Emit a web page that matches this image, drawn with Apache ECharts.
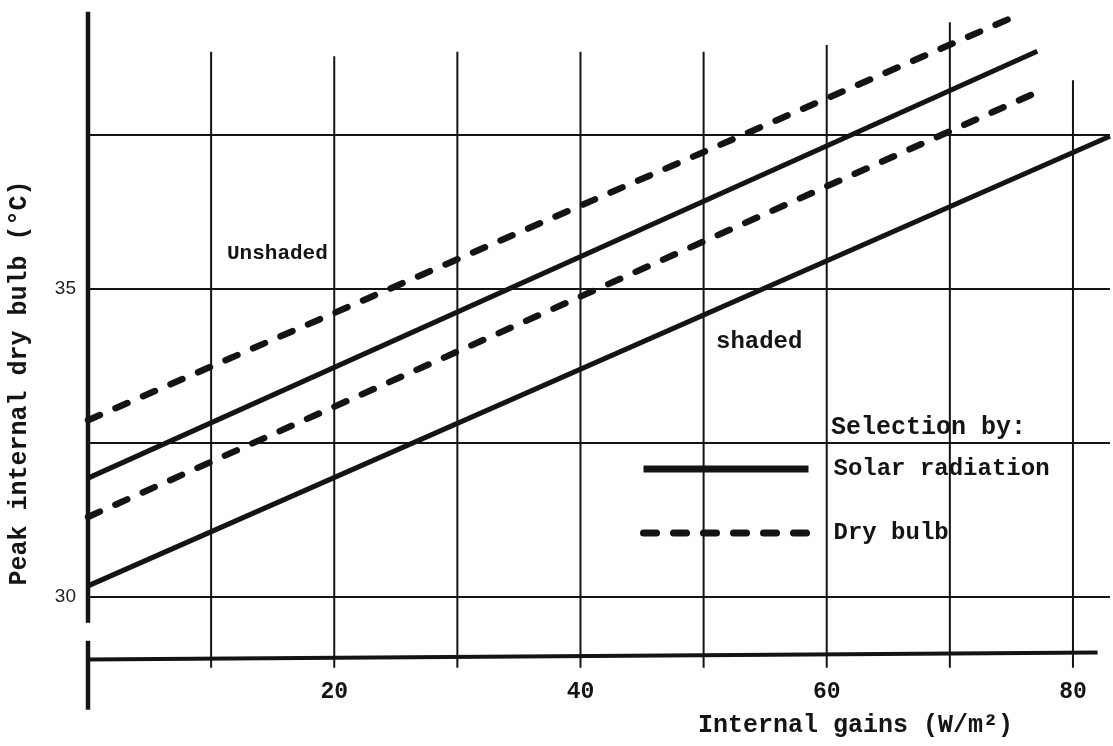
<!DOCTYPE html>
<html>
<head>
<meta charset="utf-8">
<script src="https://cdn.jsdelivr.net/npm/echarts@6/dist/echarts.min.js"></script>
<style>
  html, body { margin: 0; padding: 0; background: #fff; }
  #chart { width: 1113px; height: 746px; }
</style>
</head>
<body>
<div id="chart"></div>
<script>
// Internal gains (W/m²): ruled verticals and the labelled values
const gainRules = [10, 20, 30, 40, 50, 60, 70, 80];
const gainLabels = [20, 40, 60, 80];
// upper end (°C) of each ruled vertical, as drawn by hand
const gainRuleTops = [38.85, 38.78, 38.85, 38.85, 38.85, 38.96, 39.33, 38.39];

// Peak internal dry bulb (°C): ruled horizontals and labelled values
const tempRules = [30, 32.5, 35, 37.5];
const tempLabels = [30, 35];

// Peak temperature against internal gains, end points of each straight line
const unshadedSolarGain = [0, 77.1];
const unshadedSolarTemp = [31.93, 38.86];
const unshadedDryGain = [0, 75];
const unshadedDryTemp = [32.87, 39.4];
const shadedSolarGain = [0, 83];
const shadedSolarTemp = [30.18, 37.48];
const shadedDryGain = [0, 77.6];
const shadedDryTemp = [31.3, 38.24];

// Axis frame: broken temperature axis and the gains axis below the break
const tempAxisUpper = [[0, 29.58], [0, 39.5]];
const tempAxisLower = [[0, 28.17], [0, 29.29]];
const gainAxisLine = [[-2.6, 28.98], [82, 29.1]];

const INK = '#141414';
const MONO = '"Liberation Mono", "DejaVu Sans Mono", monospace';

const pairs = (xs, ys) => xs.map((x, i) => [x, ys[i]]);

function rule(data, width, clip) {
  return {
    type: 'line', data, symbol: 'none', silent: true, clip: !!clip, z: 1,
    lineStyle: { color: INK, width, cap: 'butt' }
  };
}

const series = [];
tempRules.forEach(v => series.push(rule([[0, v], [83, v]], 2)));
gainRules.forEach((g, i) => series.push(rule([[g, 28.85], [g, gainRuleTops[i]]], 2, false)));
series.push(rule(tempAxisUpper, 4.5, false));
series.push(rule(tempAxisLower, 4.5, false));
series.push(rule(gainAxisLine, 4, false));

function curve(name, data, dashed) {
  return {
    name, type: 'line', data, symbol: 'none', silent: true, clip: false, z: 5,
    itemStyle: { color: INK },
    lineStyle: dashed
      ? { color: INK, width: 6.5, type: [13, 17], cap: 'round' }
      : { color: INK, width: 5, type: 'solid', cap: 'butt' }
  };
}
series.push(curve('Solar radiation', pairs(unshadedSolarGain, unshadedSolarTemp), false));
series.push(curve('Dry bulb', pairs(unshadedDryGain, unshadedDryTemp), true));
series.push(curve('Solar radiation', pairs(shadedSolarGain, shadedSolarTemp), false));
series.push(curve('Dry bulb', pairs(shadedDryGain, shadedDryTemp), true));

const chart = echarts.init(document.getElementById('chart'));
chart.setOption({
  animation: false,
  backgroundColor: '#ffffff',
  grid: { left: 88, right: 3.1, top: 11.8, bottom: 87.4, containLabel: false },
  xAxis: {
    type: 'value', min: 0, max: 83, interval: 10,
    axisLine: { show: false }, axisTick: { show: false }, splitLine: { show: false },
    axisLabel: {
      margin: 22, color: INK, fontFamily: MONO, fontWeight: 'bold', fontSize: 23,
      formatter: v => gainLabels.includes(v) ? String(v) : ''
    }
  },
  yAxis: {
    type: 'value', min: 29, max: 39.5, interval: 0.5,
    axisLine: { show: false }, axisTick: { show: false }, splitLine: { show: false },
    axisLabel: {
      margin: 12, color: '#222', fontFamily: '"Liberation Sans", Arial, sans-serif', fontSize: 19,
      padding: [0, 0, 18, 0],
      formatter: v => tempLabels.includes(v) ? String(v) : ''
    }
  },
  legend: {
    data: ['Solar radiation', 'Dry bulb'],
    orient: 'vertical', left: 640, top: 457, padding: 0,
    itemWidth: 165, itemHeight: 14, itemGap: 40,
    selectedMode: false,
    itemStyle: { opacity: 0 },
    lineStyle: { width: 7, color: INK },
    textStyle: { color: INK, fontFamily: MONO, fontWeight: 'bold', fontSize: 24, padding: [0, 0, 0, 20] }
  },
  graphic: [
    { type: 'text', x: 831, y: 428, silent: true,
      style: { text: 'Selection by:', fill: INK, font: 'bold 25px ' + MONO, align: 'left', verticalAlign: 'middle' } },
    { type: 'text', x: 227, y: 254, silent: true,
      style: { text: 'Unshaded', fill: INK, font: 'bold 21px ' + MONO, align: 'left', verticalAlign: 'middle' } },
    { type: 'text', x: 716, y: 342, silent: true,
      style: { text: 'shaded', fill: INK, font: 'bold 24px ' + MONO, align: 'left', verticalAlign: 'middle' } },
    { type: 'text', x: 698, y: 726, silent: true,
      style: { text: 'Internal gains (W/m²)', fill: INK, font: 'bold 25px ' + MONO, align: 'left', verticalAlign: 'middle' } },
    { type: 'text', x: 20, y: 383, rotation: Math.PI / 2, silent: true,
      style: { text: 'Peak internal dry bulb (°C)', fill: INK, font: 'bold 25px ' + MONO, align: 'center', verticalAlign: 'middle' } }
  ],
  series
});
</script>
</body>
</html>
